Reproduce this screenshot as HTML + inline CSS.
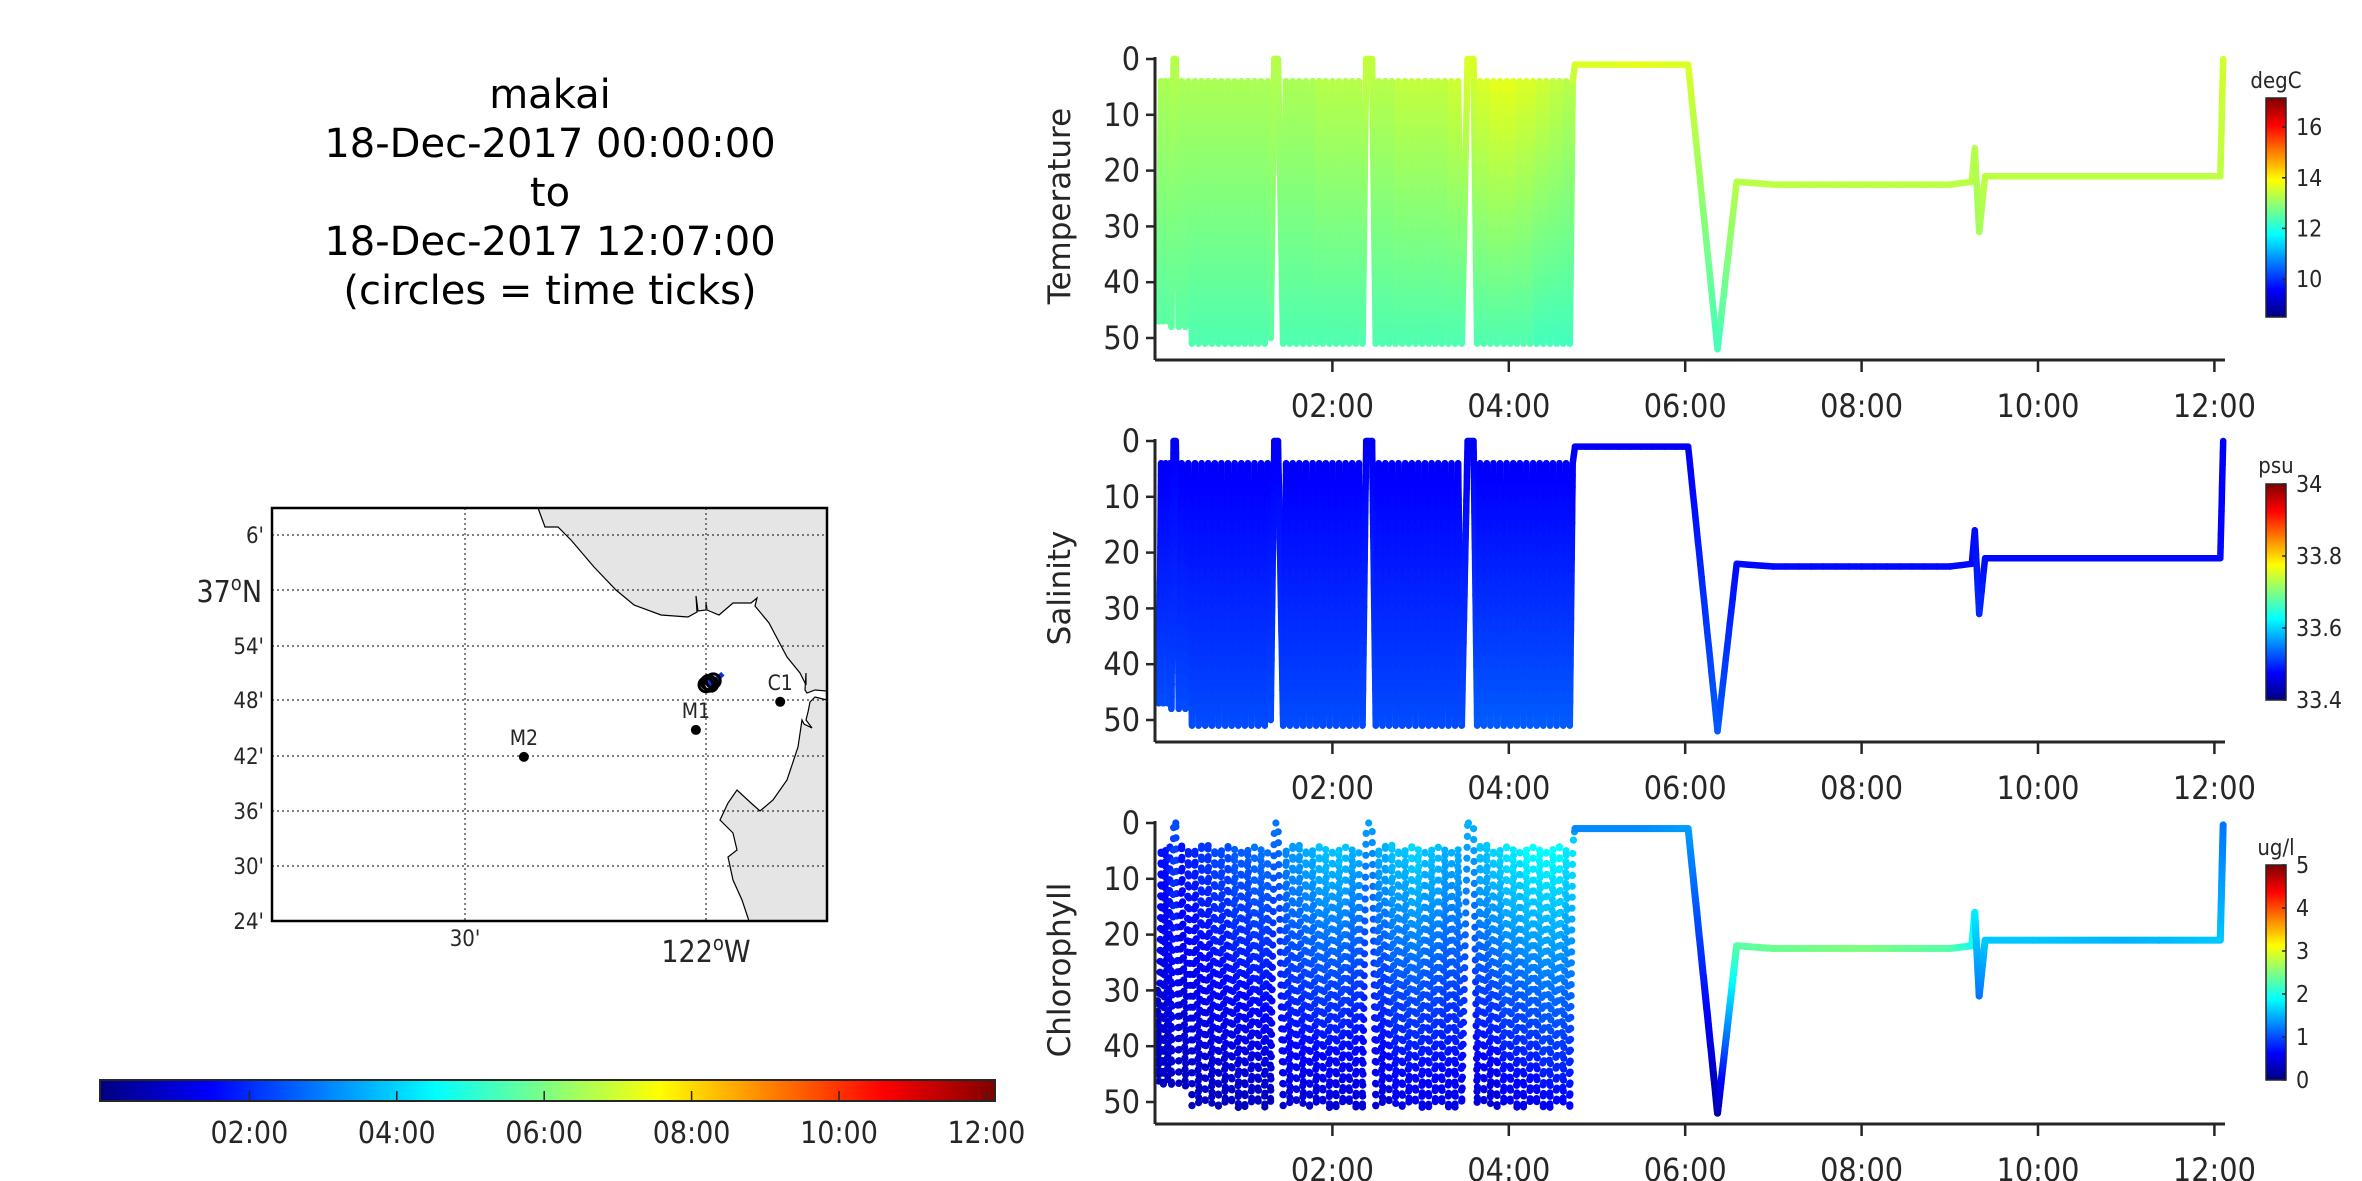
<!DOCTYPE html>
<html><head><meta charset="utf-8">
<style>
html,body{margin:0;padding:0;background:#fff;}
svg{display:block;}
text{font-family:"DejaVu Sans Condensed","DejaVu Sans","Liberation Sans",sans-serif;fill:#262626;}
.ttl{font-family:"DejaVu Sans","Liberation Sans",sans-serif;font-size:40px;fill:#000;}
.yl{font-family:"DejaVu Sans","Liberation Sans",sans-serif;font-size:31px;}
</style></head>
<body>
<svg id="fig" width="2362" height="1181" viewBox="0 0 2362 1181" xmlns="http://www.w3.org/2000/svg">
<g text-anchor="middle">
<text class="ttl" x="550" y="108">makai</text>
<text class="ttl" x="550" y="157">18-Dec-2017 00:00:00</text>
<text class="ttl" x="550" y="206">to</text>
<text class="ttl" x="550" y="255">18-Dec-2017 12:07:00</text>
<text class="ttl" x="550" y="304">(circles = time ticks)</text>
</g>
<g id="map"></g>
<g id="timebar"></g>
<g id="panels"></g>
</svg>
<script>
// ---- time series data (vertices of the vehicle track), time in minutes ----
// segment A (start)
const tA=[1,2,3.5,5,6.5,8,9.5,10.5,12,13.5];
const dA=[30,47,4,47,4,47,4,48,0,0];
const TA=[12.9,12.5,13.2,12.5,13.2,12.5,13.2,12.5,13.3,13.3];
const SA=[33.49,33.52,33.47,33.52,33.47,33.52,33.47,33.52,33.47,33.47];
const CA=[0.3,0.3,0.7,0.3,0.7,0.3,0.8,0.3,1.0,1.0];
// segment B
const tB=[15.5,17.5,20,22,24.5,26.5,29,31,33.5,35.5,
 38,40,42.5,44.5,47,49,51.5,53.5,56,58,
 60.5,62.5,65,67,69.5,71.5,74,76,78,80.5,
 83];
const dB=[48,4,48,4,51,4,51,4,51,4,
 51,4,51,4,51,4,51,4,51,4,
 51,4,51,4,51,4,51,4,50,0,
 0];
const TB=[12.5,13.2,12.5,13.2,12.4,13.2,12.4,13.2,12.4,13.2,
 12.4,13.2,12.4,13.2,12.4,13.2,12.4,13.2,12.4,13.2,
 12.4,13.2,12.4,13.2,12.4,13.2,12.4,13.2,12.5,13.3,
 13.3];
const SB=[33.52,33.47,33.52,33.47,33.52,33.47,33.52,33.47,33.52,33.47,
 33.52,33.47,33.52,33.47,33.52,33.47,33.52,33.47,33.52,33.47,
 33.52,33.47,33.52,33.47,33.52,33.47,33.52,33.47,33.52,33.47,
 33.47];
const CB=[0.3,0.7,0.3,0.8,0.3,0.8,0.3,0.9,0.3,0.9,
 0.3,1.0,0.3,1.0,0.3,1.0,0.3,1.1,0.3,1.1,
 0.3,1.1,0.3,1.2,0.3,1.2,0.3,1.2,0.3,1.2,
 1.2];
// segment C
const tC=[86.5,88.5,91,93,95.5,97.5,100,102,104.5,106.5,
 109,111,113.5,115.5,118,120,122.5,124.5,127,129,
 131.5,133.5,136,138,140.5,143,147];
const dC=[51,4,51,4,51,4,51,4,51,4,
 51,4,51,4,51,4,51,4,51,4,
 51,4,51,4,51,0,0];
const TC=[12.4,13.2,12.4,13.2,12.4,13.2,12.4,13.2,12.4,13.2,
 12.4,13.3,12.4,13.3,12.4,13.3,12.4,13.3,12.4,13.3,
 12.4,13.3,12.4,13.3,12.4,13.4,13.4];
const SC=[33.52,33.47,33.52,33.47,33.52,33.47,33.52,33.47,33.52,33.47,
 33.52,33.47,33.52,33.47,33.52,33.47,33.52,33.47,33.52,33.47,
 33.52,33.47,33.52,33.47,33.52,33.47,33.47];
const CC=[0.4,1.3,0.4,1.4,0.4,1.4,0.4,1.5,0.4,1.5,
 0.4,1.6,0.4,1.6,0.4,1.6,0.4,1.6,0.4,1.6,
 0.4,1.5,0.4,1.5,0.4,1.4,1.4];
// segment D
const tD=[149.5,151.5,154,156,158.5,160.5,163,165,167.5,169.5,
 172,174,176.5,178.5,181,183,185.5,187.5,190,192,
 194.5,196.5,199,201,203.5,205.5,208,212,216];
const dD=[51,4,51,4,51,4,51,4,51,4,
 51,4,51,4,51,4,51,4,51,4,
 51,4,51,4,51,4,51,0,0];
const TD=[12.4,13.3,12.4,13.3,12.4,13.3,12.4,13.4,12.4,13.4,
 12.4,13.4,12.4,13.4,12.4,13.4,12.4,13.4,12.4,13.4,
 12.4,13.4,12.4,13.5,12.4,13.5,12.4,13.6,13.6];
const SD=[33.52,33.47,33.52,33.47,33.52,33.47,33.52,33.47,33.52,33.47,
 33.52,33.47,33.52,33.47,33.52,33.47,33.52,33.47,33.52,33.47,
 33.52,33.47,33.52,33.47,33.52,33.47,33.52,33.47,33.47];
const CD=[0.4,1.5,0.4,1.5,0.4,1.6,0.5,1.6,0.5,1.6,
 0.5,1.7,0.5,1.7,0.5,1.6,0.5,1.6,0.5,1.6,
 0.5,1.5,0.5,1.5,0.5,1.5,0.5,1.5,1.5];
// segment E
const tE=[218.5,220.5,223,225,227.5,229.5,232,234,236.5,238.5,
 241,243,245.5,247.5,250,252,254.5,256.5,259,261,
 263.5,265.5,268,270,272.5,274.5,277,279,281.5,283.5,
 285];
const dE=[51,4,51,4,51,4,51,4,51,4,
 51,4,51,4,51,4,51,4,51,4,
 51,4,51,4,51,4,51,4,51,4,
 1];
const TE=[12.4,13.6,12.4,13.6,12.4,13.7,12.4,13.7,12.4,13.7,
 12.4,13.7,12.4,13.6,12.4,13.6,12.4,13.6,12.3,13.5,
 12.3,13.5,12.3,13.4,12.3,13.4,12.3,13.3,12.3,13.3,
 13.6];
const SE=[33.53,33.47,33.53,33.47,33.53,33.47,33.53,33.47,33.53,33.47,
 33.53,33.47,33.53,33.47,33.53,33.47,33.53,33.47,33.53,33.47,
 33.53,33.47,33.53,33.47,33.53,33.47,33.53,33.47,33.53,33.47,
 33.47];
const CE=[0.4,1.6,0.4,1.6,0.4,1.7,0.4,1.7,0.5,1.8,
 0.5,1.8,0.5,1.8,0.5,1.9,0.5,1.9,0.5,1.9,
 0.6,1.9,0.6,1.9,0.6,1.9,0.6,1.8,0.6,1.8,
 1.3];
// segment F (surface, dive, station keeping)
const tF=[300,330,362,382,395,420,480,540,555,557,
 560,564,600,660,724,726];
const dF=[1,1,1,52,22,22.5,22.5,22.5,22,16,
 31,21,21,21,21,0];
const TF=[13.6,13.7,13.6,12.3,13.3,13.35,13.35,13.35,13.3,13.3,
 13.1,13.35,13.35,13.35,13.35,13.5];
const SF=[33.47,33.47,33.47,33.53,33.48,33.48,33.48,33.48,33.48,33.48,
 33.5,33.48,33.48,33.48,33.48,33.47];
const CF=[1.3,1.3,1.4,0.2,2.3,2.4,2.5,2.3,2.0,1.8,
 1.2,1.6,1.6,1.5,1.6,1.2];

const vTime=[].concat(tA,tB,tC,tD,tE,tF);
const vDepth=[].concat(dA,dB,dC,dD,dE,dF);
const vTemp=[].concat(TA,TB,TC,TD,TE,TF);
const vSal=[].concat(SA,SB,SC,SD,SE,SF);
const vChl=[].concat(CA,CB,CC,CD,CE,CF);

const depthTicks = [0,10,20,30,40,50];
const hourTicks = [2,4,6,8,10,12];
const hourLabels = ["02:00","04:00","06:00","08:00","10:00","12:00"];
const tempCbTicks = [10,12,14,16];
const salCbTicks = [33.4,33.6,33.8,34];
const chlCbTicks = [0,1,2,3,4,5];
// ---- map data ----
const stationNames = ["M2","M1","C1"];
const stationLon = [-122.378,-122.021,-121.846];
const stationLat = [36.697,36.746,36.797];
const trackLon = [-122.0,-121.995,-121.99,-121.985,-121.975,-121.965];
const trackLat = [36.828,36.832,36.829,36.835,36.84,36.848];

const NS="http://www.w3.org/2000/svg";
function el(tag,attrs,parent,txt){const e=document.createElementNS(NS,tag);for(const k in attrs)e.setAttribute(k,attrs[k]);if(txt!==undefined)e.textContent=txt;if(parent)parent.appendChild(e);return e;}
function cl(v){return Math.max(0,Math.min(1,v));}
function jet(f){f=cl(f);const r=cl(1.5-Math.abs(4*f-3)),g=cl(1.5-Math.abs(4*f-2)),b=cl(1.5-Math.abs(4*f-1));return `rgb(${Math.round(r*255)},${Math.round(g*255)},${Math.round(b*255)})`;}

// axis functions
const X0=1156, PXH=88.2;
function xs(min){return X0+min/60*PXH;}
const panelTop=[59,441,823];
function ys(p,d){return panelTop[p]+d/50*279;}

const panels=[
 {name:'temperature',label:'Temperature',vals:vTemp,lo:8.5,hi:17.15,ticks:tempCbTicks,unit:'degC',cb:[98,317],unitY:88,dots:false},
 {name:'salinity',label:'Salinity',vals:vSal,lo:33.4,hi:34.0,ticks:salCbTicks,unit:'psu',cb:[484,700],unitY:473,dots:false},
 {name:'chlorophyll',label:'Chlorophyll',vals:vChl,lo:0,hi:5,ticks:chlCbTicks,unit:'ug/l',cb:[865,1080],unitY:855,dots:true}
];
const gp=document.getElementById('panels');
panels.forEach((P,pi)=>{
  const g=el('g',{},gp);
  
  
  const top=panelTop[pi], bot=top+301;
  const series=el('g',{},g);
  
  
  const col=v=>jet((v-P.lo)/(P.hi-P.lo));
  for(let i=0;i<vTime.length-1;i++){
    const x1=xs(vTime[i]),y1=ys(pi,vDepth[i]),x2=xs(vTime[i+1]),y2=ys(pi,vDepth[i+1]);
    const len=Math.hypot(x2-x1,y2-y1);
    if(P.dots){
      const step=vTime[i]<284?11:2;
      const n=Math.max(1,Math.round(len/step));
      const off=vTime[i]<284?((i*0.37)%1):0;
      for(let k=0;k<n;k++){const f=Math.min(1,(k+off)/n);
        const c=el('circle',{cx:(x1+(x2-x1)*f).toFixed(1),cy:(y1+(y2-y1)*f).toFixed(1),r:3.6,fill:col(vChl[i]+(vChl[i+1]-vChl[i])*f)},series);
        
        
      }
    } else {
      const n=Math.max(1,Math.round(len/12));
      for(let k=0;k<n;k++){const f1=k/n,f2=(k+1)/n,fm=(f1+f2)/2;
        const l=el('line',{x1:(x1+(x2-x1)*f1).toFixed(1),y1:(y1+(y2-y1)*f1).toFixed(1),x2:(x1+(x2-x1)*f2).toFixed(1),y2:(y1+(y2-y1)*f2).toFixed(1),stroke:col(P.vals[i]+(P.vals[i+1]-P.vals[i])*fm),'stroke-width':6.5,'stroke-linecap':'round'},series);
        
        
      }
    }
  }
  // axes
  const ax=el('g',{stroke:'#262626','stroke-width':3,fill:'none'},g);
  
  
  el('line',{x1:1155,y1:top-2,x2:1155,y2:bot},ax);
  el('line',{x1:1155,y1:bot,x2:2225,y2:bot},ax);
  depthTicks.forEach(d=>{
    el('line',{x1:1146,y1:ys(pi,d),x2:1155,y2:ys(pi,d),'stroke-width':2.5},ax);
    const t=el('text',{x:1140,y:ys(pi,d)+11,'text-anchor':'end','font-size':32},g,String(d));
    
    
  });
  hourTicks.forEach((h,k)=>{
    const x=xs(h*60);
    el('line',{x1:x,y1:bot,x2:x,y2:bot+12,'stroke-width':2.5},ax);
    const t=el('text',{x:x,y:bot+57,'text-anchor':'middle','font-size':32},g,hourLabels[k]);
    
    
  });
  const yl=el('text',{class:'yl',x:0,y:0,'text-anchor':'middle',transform:`translate(1070,${top+147}) rotate(-90)`},g,P.label);
  
  
  // colorbar
  const cb=el('g',{},g);
  
  
  const gid='g'+pi;
  const lg=el('linearGradient',{id:gid,x1:0,y1:1,x2:0,y2:0},el('defs',{},cb));
  for(let s=0;s<=8;s++)el('stop',{offset:s/8,'stop-color':jet(s/8)},lg);
  el('rect',{x:2266,y:P.cb[0],width:20,height:P.cb[1]-P.cb[0],fill:`url(#${gid})`,stroke:'#262626','stroke-width':1.5},cb);
  P.ticks.forEach(v=>{
    const y=P.cb[1]-(v-P.lo)/(P.hi-P.lo)*(P.cb[1]-P.cb[0]);
    el('line',{x1:2282,y1:y,x2:2286,y2:y,stroke:'#262626','stroke-width':1.5},cb);
    const t=el('text',{x:2296,y:y+8,'font-size':23},cb,String(v));
    
    
  });
  const u=el('text',{x:2276,y:P.unitY,'text-anchor':'middle','font-size':22},cb,P.unit);
  
  
});

// ---- map ----
const mg=document.getElementById('map');
const MX0=272,MX1=827,MY0=508,MY1=921;
function mx(lon){return 706+(lon+122)*60*8.03;}
function my(lat){return 590-(lat-37)*60*9.18;}
el('rect',{x:MX0,y:MY0,width:MX1-MX0,height:MY1-MY0,fill:'#fff'},mg);
const land=el('path',{d:'M538,508 L545,527 L558,527 L571,540 L594,567 L616,590 L634,605 L661,615 L688,617 L697,612 L696,596 L698,611 L706,610 L706,602 L707,610 L719,615 L733,603 L751,603 L757,598 L755,606 L769,623 L787,657 L800,673 L806,685 L806,673 L805,690 L807,693 L815,690 L827,691 L827,700 L815,697 L810,702 L808,712 L806,720 L812,728 L804,724 L802,720 L798,747 L787,780 L773,800 L760,811 L751,803 L737,790 L728,803 L720,820 L733,833 L737,850 L728,857 L733,880 L742,900 L749,921 L827,921 L827,508 Z',fill:'#e5e5e5',stroke:'#000','stroke-width':1.2},mg);


const grid=el('g',{stroke:'#333','stroke-width':1.2,'stroke-dasharray':'2,3'},mg);


[535,590,646,700,756,811,866].forEach(y=>el('line',{x1:MX0,y1:y,x2:MX1,y2:y},grid));
[465,706].forEach(x=>el('line',{x1:x,y1:MY0,x2:x,y2:MY1},grid));
el('rect',{x:MX0,y:MY0,width:MX1-MX0,height:MY1-MY0,fill:'none',stroke:'#000','stroke-width':2.5},mg);
[["6'",535],["54'",646],["48'",700],["42'",756],["36'",811],["30'",866],["24'",921]].forEach(a=>{
  const t=el('text',{x:264,y:a[1]+8,'text-anchor':'end','font-size':22},mg,a[0]);
  
  
});
const l37=el('text',{x:262,y:602,'text-anchor':'end','font-size':30},mg);
l37.innerHTML='37<tspan dy="-12" font-size="20">o</tspan><tspan dy="12">N</tspan>';


const l30=el('text',{x:465,y:946,'text-anchor':'middle','font-size':22},mg,"30'");


const l122=el('text',{x:706,y:962,'text-anchor':'middle','font-size':30},mg);
l122.innerHTML='122<tspan dy="-12" font-size="20">o</tspan><tspan dy="12">W</tspan>';


// track
const tr=el('g',{},mg);


let pts=trackLon.map((lo,i)=>mx(lo).toFixed(1)+','+my(trackLat[i]).toFixed(1)).join(' ');
el('polyline',{points:pts,fill:'none',stroke:'#1030e0','stroke-width':5},tr);
trackLon.slice(0,4).forEach((lo,i)=>{
  const c=el('circle',{cx:mx(lo),cy:my(trackLat[i]),r:7,fill:'none',stroke:'#000','stroke-width':3},tr);
  
  
});
stationNames.forEach((n,i)=>{
  const g=el('g',{},mg);
  
  
  el('circle',{cx:mx(stationLon[i]),cy:my(stationLat[i]),r:5,fill:'#000'},g);
  el('text',{x:mx(stationLon[i]),y:my(stationLat[i])-12,'text-anchor':'middle','font-size':21},g,n);
});

// ---- time colorbar ----
const tb=document.getElementById('timebar');
const TX0=102, TPX=73.7;
function tx(h){return TX0+h*TPX;}
const tg=el('linearGradient',{id:'tg',x1:0,y1:0,x2:1,y2:0},el('defs',{},tb));
for(let s=0;s<=8;s++)el('stop',{offset:s/8,'stop-color':jet(s/8)},tg);
el('rect',{x:100,y:1080,width:895,height:21,fill:'url(#tg)',stroke:'#262626','stroke-width':2},tb);
hourTicks.forEach((h,k)=>{
  el('line',{x1:tx(h),y1:1101,x2:tx(h),y2:1091,stroke:'#262626','stroke-width':1.5},tb);
  const t=el('text',{x:tx(h),y:1143,'text-anchor':'middle','font-size':30},tb,hourLabels[k]);
  
  
});
</script>
</body></html>
